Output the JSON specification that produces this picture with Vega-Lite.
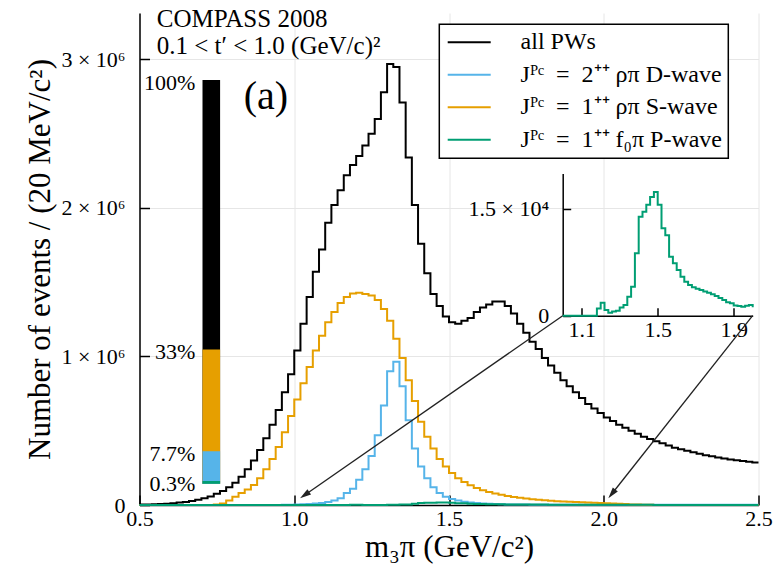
{
  "$schema": "https://vega.github.io/schema/vega-lite/v6.json",
  "width": 619,
  "height": 492,
  "autosize": {"type": "none"},
  "padding": {"left": 139.5, "top": 13, "right": 15.5, "bottom": 72},
  "background": "white",
  "config": {
    "font": "Liberation Serif",
    "view": {"stroke": null},
    "axis": {"labelColor": "black", "titleColor": "black", "titleFontWeight": "normal", "domainColor": "black", "tickColor": "black", "gridColor": "#e6e6e6", "labelFont": "Liberation Serif", "titleFont": "Liberation Serif"},
    "legend": {"labelFont": "Liberation Serif", "strokeWidth": 1.5},
    "text": {"font": "Liberation Serif", "color": "black"}
  },
  "datasets": {
    "hist": [
      {"m":0.50,"all":3000,"D":0,"S":0,"P":0},
      {"m":0.52,"all":4000,"D":0,"S":0,"P":0},
      {"m":0.54,"all":5000,"D":0,"S":0,"P":0},
      {"m":0.56,"all":7000,"D":0,"S":0,"P":0},
      {"m":0.58,"all":9000,"D":0,"S":0,"P":0},
      {"m":0.60,"all":12000,"D":0,"S":0,"P":0},
      {"m":0.62,"all":16000,"D":0,"S":0,"P":0},
      {"m":0.64,"all":21000,"D":0,"S":0,"P":0},
      {"m":0.66,"all":27000,"D":0,"S":0,"P":0},
      {"m":0.68,"all":35000,"D":0,"S":0,"P":0},
      {"m":0.70,"all":45000,"D":0,"S":0,"P":0},
      {"m":0.72,"all":58000,"D":0,"S":0,"P":0},
      {"m":0.74,"all":75000,"D":0,"S":3000,"P":0},
      {"m":0.76,"all":95000,"D":0,"S":10000,"P":0},
      {"m":0.78,"all":120000,"D":0,"S":30000,"P":0},
      {"m":0.80,"all":150000,"D":0,"S":56000,"P":0},
      {"m":0.82,"all":190000,"D":0,"S":80000,"P":0},
      {"m":0.84,"all":240000,"D":0,"S":105000,"P":0},
      {"m":0.86,"all":300000,"D":0,"S":135000,"P":0},
      {"m":0.88,"all":370000,"D":0,"S":180000,"P":0},
      {"m":0.90,"all":450000,"D":0,"S":240000,"P":0},
      {"m":0.92,"all":540000,"D":0,"S":310000,"P":0},
      {"m":0.94,"all":640000,"D":0,"S":390000,"P":0},
      {"m":0.96,"all":760000,"D":1000,"S":490000,"P":0},
      {"m":0.98,"all":880000,"D":2000,"S":600000,"P":0},
      {"m":1.00,"all":1040000,"D":3000,"S":710000,"P":0},
      {"m":1.02,"all":1220000,"D":5000,"S":820000,"P":0},
      {"m":1.04,"all":1400000,"D":7000,"S":930000,"P":0},
      {"m":1.06,"all":1570000,"D":10000,"S":1040000,"P":0},
      {"m":1.08,"all":1720000,"D":14000,"S":1140000,"P":0},
      {"m":1.10,"all":1900000,"D":20000,"S":1230000,"P":0},
      {"m":1.12,"all":2020000,"D":30000,"S":1300000,"P":0},
      {"m":1.14,"all":2120000,"D":45000,"S":1360000,"P":0},
      {"m":1.16,"all":2220000,"D":80000,"S":1400000,"P":0},
      {"m":1.18,"all":2290000,"D":110000,"S":1425000,"P":1000},
      {"m":1.20,"all":2350000,"D":170000,"S":1430000,"P":1830},
      {"m":1.22,"all":2420000,"D":240000,"S":1420000,"P":800},
      {"m":1.24,"all":2500000,"D":330000,"S":1410000,"P":420},
      {"m":1.26,"all":2600000,"D":470000,"S":1380000,"P":600},
      {"m":1.28,"all":2780000,"D":670000,"S":1320000,"P":700},
      {"m":1.30,"all":2970000,"D":900000,"S":1240000,"P":1170},
      {"m":1.32,"all":2950000,"D":965000,"S":1120000,"P":1500},
      {"m":1.34,"all":2710000,"D":800000,"S":990000,"P":2670},
      {"m":1.36,"all":2340000,"D":570000,"S":840000,"P":4080},
      {"m":1.38,"all":2020000,"D":380000,"S":700000,"P":8770},
      {"m":1.40,"all":1760000,"D":260000,"S":560000,"P":13900},
      {"m":1.42,"all":1560000,"D":180000,"S":460000,"P":14600},
      {"m":1.44,"all":1420000,"D":120000,"S":380000,"P":15600},
      {"m":1.46,"all":1340000,"D":80000,"S":310000,"P":16700},
      {"m":1.48,"all":1270000,"D":56000,"S":260000,"P":17400},
      {"m":1.50,"all":1230000,"D":40000,"S":215000,"P":15600},
      {"m":1.52,"all":1220000,"D":30000,"S":180000,"P":12300},
      {"m":1.54,"all":1240000,"D":22000,"S":155000,"P":11300},
      {"m":1.56,"all":1260000,"D":17000,"S":133000,"P":8300},
      {"m":1.58,"all":1300000,"D":13000,"S":115000,"P":7360},
      {"m":1.60,"all":1330000,"D":10000,"S":100000,"P":6420},
      {"m":1.62,"all":1350000,"D":8000,"S":88000,"P":5490},
      {"m":1.64,"all":1370000,"D":6000,"S":78000,"P":4780},
      {"m":1.66,"all":1370000,"D":5000,"S":69000,"P":4300},
      {"m":1.68,"all":1340000,"D":4000,"S":61000,"P":3990},
      {"m":1.70,"all":1290000,"D":4000,"S":54000,"P":3800},
      {"m":1.72,"all":1220000,"D":3000,"S":48000,"P":3610},
      {"m":1.74,"all":1160000,"D":3000,"S":43000,"P":3400},
      {"m":1.76,"all":1100000,"D":2000,"S":39000,"P":3240},
      {"m":1.78,"all":1050000,"D":2000,"S":35000,"P":3000},
      {"m":1.80,"all":990000,"D":2000,"S":32000,"P":2770},
      {"m":1.82,"all":940000,"D":2000,"S":29000,"P":2500},
      {"m":1.84,"all":890000,"D":2000,"S":26000,"P":2200},
      {"m":1.86,"all":840000,"D":1000,"S":24000,"P":1900},
      {"m":1.88,"all":800000,"D":1000,"S":22000,"P":1740},
      {"m":1.90,"all":760000,"D":1000,"S":20000,"P":1450},
      {"m":1.92,"all":720000,"D":1000,"S":18000,"P":1360},
      {"m":1.94,"all":680000,"D":1000,"S":16000,"P":1270},
      {"m":1.96,"all":650000,"D":1000,"S":15000,"P":1400},
      {"m":1.98,"all":620000,"D":1000,"S":13000,"P":1500},
      {"m":2.00,"all":590000,"D":1000,"S":12000,"P":1200},
      {"m":2.02,"all":565000,"D":1000,"S":10000,"P":1100},
      {"m":2.04,"all":540000,"D":1000,"S":8000,"P":1050},
      {"m":2.06,"all":520000,"D":1000,"S":6000,"P":1000},
      {"m":2.08,"all":500000,"D":1000,"S":4000,"P":950},
      {"m":2.10,"all":480000,"D":1000,"S":3000,"P":900},
      {"m":2.12,"all":460000,"D":1000,"S":2000,"P":880},
      {"m":2.14,"all":445000,"D":1000,"S":1000,"P":850},
      {"m":2.16,"all":430000,"D":1000,"S":0,"P":820},
      {"m":2.18,"all":415000,"D":1000,"S":0,"P":800},
      {"m":2.20,"all":400000,"D":1000,"S":0,"P":780},
      {"m":2.22,"all":385000,"D":1000,"S":0,"P":760},
      {"m":2.24,"all":375000,"D":1000,"S":0,"P":740},
      {"m":2.26,"all":365000,"D":1000,"S":0,"P":720},
      {"m":2.28,"all":355000,"D":1000,"S":0,"P":700},
      {"m":2.30,"all":345000,"D":1000,"S":0,"P":690},
      {"m":2.32,"all":335000,"D":1000,"S":0,"P":680},
      {"m":2.34,"all":328000,"D":1000,"S":0,"P":670},
      {"m":2.36,"all":320000,"D":1000,"S":0,"P":660},
      {"m":2.38,"all":313000,"D":1000,"S":0,"P":650},
      {"m":2.40,"all":307000,"D":1000,"S":0,"P":640},
      {"m":2.42,"all":301000,"D":1000,"S":0,"P":630},
      {"m":2.44,"all":296000,"D":1000,"S":0,"P":620},
      {"m":2.46,"all":291000,"D":1000,"S":0,"P":610},
      {"m":2.48,"all":286000,"D":1000,"S":0,"P":600},
      {"m":2.50,"all":286000,"D":1000,"S":0,"P":600}
    ],
    "pct": [
      {"wave":"all","pct":100,"label":"100%"},
      {"wave":"S","pct":33,"label":"33%"},
      {"wave":"D","pct":7.7,"label":"7.7%"},
      {"wave":"P","pct":0.3,"label":"0.3%"}
    ]
  },
  "layer": [
    {
      "data": {"name": "hist"},
      "layer": [
        {
          "transform": [{"fold": ["all","D","S","P"], "as": ["wave","n"]}, {"filter": "datum.wave == 'all'"}],
          "mark": {"type": "line", "interpolate": "step-after", "strokeWidth": 2},
          "encoding": {
            "x": {"field": "m", "type": "quantitative", "scale": {"domain": [0.5, 2.5], "nice": false, "zero": false},
              "axis": {"values": [0.5,1,1.5,2,2.5], "format": ".1f", "title": "m₃π (GeV/c²)", "titleFontSize": 31, "titlePadding": 3, "labelFont": "Liberation Serif", "labelFontSize": 22, "labelPadding": 13, "tickSize": -10, "tickWidth": 1.5, "domainWidth": 1.5, "grid": true, "labelFlush": false, "labelOverlap": false}},
            "y": {"field": "n", "type": "quantitative", "scale": {"domain": [0, 3313000], "nice": false},
              "axis": {"values": [0,1000000,2000000,3000000], "labelExpr": "datum.value == 0 ? '0' : format(datum.value/1000000,'d') + ' × 10⁶'", "title": "Number of events / (20 MeV/c²)", "titleFontSize": 31, "titlePadding": 4, "labelFont": "Liberation Serif", "labelFontSize": 22, "labelPadding": 24.5, "tickSize": -10, "tickWidth": 1.5, "domainWidth": 1.5, "grid": true, "labelFlush": false, "labelOverlap": false}},
            "color": {"field": "wave", "type": "nominal",
              "scale": {"domain": ["all","D","S","P"], "range": ["#000000","#56B4E9","#E69F00","#009E73"]},
              "legend": {"orient": "none", "legendX": 299.8, "legendY": 11.3, "title": null, "symbolType": "M-2.15,0H2.15", "symbolSize": 400, "symbolOffset": 11.9, "symbolStrokeWidth": 2, "labelFontSize": 24, "labelOffset": 39.4, "labelLimit": 600, "rowPadding": 8.5, "padding": 6, "strokeColor": "black", "fillColor": "white", "labelColor": "black",
                "labelExpr": "datum.value == 'all' ? 'all PWs' : datum.value == 'D' ? 'Jᴾᶜ\u2002=\u20022⁺⁺ ρπ D-wave' : datum.value == 'S' ? 'Jᴾᶜ\u2002=\u20021⁺⁺ ρπ S-wave' : 'Jᴾᶜ\u2002=\u20021⁺⁺ f₀π P-wave'"}}
          }
        },
        {
          "transform": [{"fold": ["all","D","S","P"], "as": ["wave","n"]}, {"filter": "datum.wave == 'D'"}],
          "mark": {"type": "line", "interpolate": "step-after", "strokeWidth": 2},
          "encoding": {"x": {"field": "m", "type": "quantitative"}, "y": {"field": "n", "type": "quantitative"}, "color": {"field": "wave", "type": "nominal"}}
        },
        {
          "transform": [{"fold": ["all","D","S","P"], "as": ["wave","n"]}, {"filter": "datum.wave == 'S'"}],
          "mark": {"type": "line", "interpolate": "step-after", "strokeWidth": 2},
          "encoding": {"x": {"field": "m", "type": "quantitative"}, "y": {"field": "n", "type": "quantitative"}, "color": {"field": "wave", "type": "nominal"}}
        },
        {
          "transform": [{"fold": ["all","D","S","P"], "as": ["wave","n"]}, {"filter": "datum.wave == 'P'"}],
          "mark": {"type": "line", "interpolate": "step-after", "strokeWidth": 2},
          "encoding": {"x": {"field": "m", "type": "quantitative"}, "y": {"field": "n", "type": "quantitative"}, "color": {"field": "wave", "type": "nominal"}}
        },
        {
          "data": {"values": [{"x1":1.8674,"y1":1274700,"x2":1.0399,"y2":76100},{"x1":2.481,"y1":1274700,"x2":2.0309,"y2":87500}]},
          "mark": {"type": "rule", "color": "#222222", "strokeWidth": 1.3},
          "encoding": {"x": {"field": "x1", "type": "quantitative"}, "y": {"field": "y1", "type": "quantitative"}, "x2": {"field": "x2"}, "y2": {"field": "y2"}}
        },
        {
          "data": {"values": [{"x": 1.0399, "y": 76100}]},
          "mark": {"type": "point", "shape": "M0,-1L-0.4,0.4L0.4,0.4Z", "filled": true, "color": "#222222", "opacity": 1, "size": 256, "angle": 235.2},
          "encoding": {"x": {"field": "x", "type": "quantitative"}, "y": {"field": "y", "type": "quantitative"}}
        },
        {
          "data": {"values": [{"x": 2.0309, "y": 87500}]},
          "mark": {"type": "point", "shape": "M0,-1L-0.4,0.4L0.4,0.4Z", "filled": true, "color": "#222222", "opacity": 1, "size": 256, "angle": 218.3},
          "encoding": {"x": {"field": "x", "type": "quantitative"}, "y": {"field": "y", "type": "quantitative"}}
        },
        {
          "data": {"values": [{}]},
          "mark": {"type": "text", "align": "left", "baseline": "alphabetic", "fontSize": 25, "text": "COMPASS 2008"},
          "encoding": {"x": {"datum": 0.5556}, "y": {"datum": 3218000}}
        },
        {
          "data": {"values": [{}]},
          "mark": {"type": "text", "align": "left", "baseline": "alphabetic", "fontSize": 25, "text": "0.1 < t′ < 1.0 (GeV/c)²"},
          "encoding": {"x": {"datum": 0.5556}, "y": {"datum": 3036000}}
        },
        {
          "data": {"values": [{}]},
          "mark": {"type": "text", "align": "center", "baseline": "middle", "fontSize": 40, "text": "(a)"},
          "encoding": {"x": {"datum": 0.9087}, "y": {"datum": 2747000}}
        }
      ]
    },
    {
      "data": {"name": "pct"},
      "layer": [
        {
          "mark": {"type": "rect", "strokeWidth": 1.6},
          "encoding": {
            "x": {"datum": 0, "type": "quantitative", "scale": {"domain": [0, 1], "range": [63.8, 79.8], "nice": false}, "axis": null},
            "x2": {"datum": 1},
            "y": {"field": "pct", "type": "quantitative", "scale": {"domain": [0, 100], "range": [470, 67.7], "nice": false}, "axis": null},
            "y2": {"datum": 0},
            "color": {"field": "wave", "type": "nominal"},
            "stroke": {"field": "wave", "type": "nominal", "scale": {"domain": ["all","D","S","P"], "range": ["#000000","#56B4E9","#E69F00","#009E73"]}, "legend": null}
          }
        },
        {
          "mark": {"type": "text", "align": "right", "baseline": "middle", "dx": -8, "dy": 2, "fontSize": 22},
          "encoding": {
            "x": {"datum": 0, "type": "quantitative"},
            "y": {"field": "pct", "type": "quantitative"},
            "text": {"field": "label"}
          }
        }
      ]
    },
    {
      "data": {"name": "hist"},
      "transform": [{"filter": "datum.m >= 1.0 && datum.m <= 2.0"}],
      "mark": {"type": "line", "interpolate": "step-after", "strokeWidth": 2, "color": "#009E73"},
      "encoding": {
        "x": {"field": "m", "type": "quantitative", "scale": {"domain": [1, 2], "range": [423.2, 613.2], "nice": false, "zero": false},
          "axis": {"orient": "bottom", "offset": -189.3, "values": [1.1, 1.5, 1.9], "format": ".1f", "title": null, "grid": false, "labelFont": "Liberation Serif", "labelFontSize": 22, "labelPadding": 12, "tickSize": -8, "tickWidth": 1.5, "domainWidth": 1.5, "labelFlush": false}},
        "y": {"field": "P", "type": "quantitative", "scale": {"domain": [0, 20000], "range": [302.7, 160.4], "nice": false},
          "axis": {"orient": "left", "offset": -423.2, "values": [0, 15000], "labelExpr": "datum.value == 0 ? '0' : '1.5 × 10⁴'", "title": null, "grid": false, "labelFont": "Liberation Serif", "labelFontSize": 22, "labelPadding": 22, "tickSize": -8, "tickWidth": 1.5, "domainWidth": 1.5, "labelFlush": false}}
      }
    }
  ],
  "resolve": {"scale": {"x": "independent", "y": "independent"}, "axis": {"x": "independent", "y": "independent"}}
}
